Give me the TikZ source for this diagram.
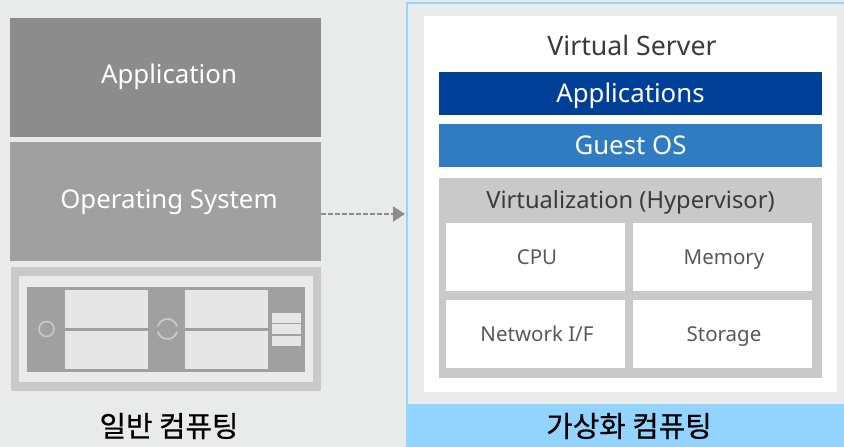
\documentclass[tikz,border=0pt]{standalone}
\usepackage{fontspec}
\setmainfont{Noto Sans}
\newfontfamily\krfont[FakeBold=0.6]{Noto Sans CJK KR}
\definecolor{pagebg}{HTML}{E9EBEA}
\definecolor{skyblue}{HTML}{93D4FF}
\definecolor{navyblue}{HTML}{004098}
\definecolor{midblue}{HTML}{2F7CC2}
\definecolor{lightgray}{HTML}{C8C9C8}
\definecolor{midgray}{HTML}{A0A0A0}
\definecolor{darkgray}{HTML}{8C8C8C}
\definecolor{slotgray}{HTML}{E6E6E6}
\definecolor{inktext}{HTML}{3E3A39}
\usetikzlibrary{arrows.meta}
\begin{document}
\begin{tikzpicture}
  [x=1pt,y=-1pt,every node/.style={inner sep=0,outer sep=0,shape=rectangle}]
  \tikzstyle{block} = [minimum width=#1,text=white,text height=19,text depth=6,font=\fontsize{25.8}{25}\selectfont]
  \tikzstyle{bar} = [block=383,minimum height=43,text height=23]
  \tikzstyle{cell} = [fill=white,minimum width=179,minimum height=68,text=inktext!85!white,text height=19,text depth=5,font=\fontsize{20.5}{20}\selectfont]
  \tikzstyle{slot} = [fill=slotgray,minimum width=83,minimum height=38]
  \tikzstyle{led} = [fill=slotgray,minimum width=29,minimum height=10]
  \tikzstyle{caption} = [text=black,font=\krfont\fontsize{28.8}{28}\selectfont]
  \useasboundingbox (0,0) rectangle (844,447);
  \fill[pagebg] (0,0) rectangle (844,447);
  % left stack
  \node[block=311,fill=darkgray,minimum height=119,text depth=8] (app) at (165.5,77.5) {\hspace{7pt}Application};
  \node[block=311,fill=midgray,minimum height=119] (os) at (165.5,201.5) {\hspace{7pt}Operating System};
  \node[fill=lightgray,minimum width=310,minimum height=124] (hw) at (166,329) {};
  \node[fill=pagebg,minimum width=294,minimum height=106] (hwin) at (166,329) {};
  \node[fill=midgray,minimum width=278,minimum height=85] (chassis) at (166,329.5) {};
  \foreach \name /\px /\py in {s1/106.5/309,s2/106.5/350,s3/226/309,s4/226/350}
    \node[slot] (\name) at (\px,\py) {};
  \foreach \name /\py in {l1/318,l2/329,l3/341}
    \node[led] (\name) at (286.5,\py) {};
  \node[circle,draw=lightgray,line width=1.6,minimum size=15] (dot) at (46.5,329) {};
  \draw[lightgray,line width=1.8] (167.5,329) ++(15:10) arc[start angle=15,end angle=165,radius=10];
  \draw[lightgray,line width=1.8] (167.5,329) ++(-15:10) arc[start angle=-15,end angle=-165,radius=10];
  \node[caption] (lefttitle) at (169,426) {일반 컴퓨팅};
  % right panel
  \node[draw=skyblue,line width=2.4,minimum width=440,minimum height=446] (panel) at (627,226) {};
  \fill[skyblue] (406,404) rectangle (844,447);
  \node[fill=white,minimum width=413,minimum height=376] (server) at (630.5,204) {};
  \node[text=inktext,text height=19,text depth=6,font=\fontsize{26.7}{25}\selectfont] (vs) at (632,48.5) {Virtual Server};
  \node[bar,fill=navyblue] (apps) at (630.5,93.5) {Applications};
  \node[bar,fill=midblue] (guest) at (630.5,145.5) {Guest OS};
  \node[fill=lightgray,minimum width=383,minimum height=200] (hyp) at (630.5,278) {};
  \node[text=inktext,text height=17,text depth=6,font=\fontsize{23.7}{23}\selectfont] (hyptitle) at (630.5,203) {Virtualization (Hypervisor)};
  \foreach \name /\px /\py /\txt in {cpu/535.5/257/CPU,mem/722.5/257/Memory,net/535.5/334/{Network I/F},sto/722.5/334/Storage}
    \node[cell] (\name) at (\px,\py) {\hspace{3pt}\txt};
  \node[caption] (righttitle) at (629,426) {가상화 컴퓨팅};
  % link
  \draw[darkgray,line width=1.8,dash pattern=on 5pt off 2pt,-{Triangle[length=12,width=15]}] ([yshift=-12.5pt]os.east) -- ([xshift=-2pt,yshift=-12.5pt]os.east -| panel.west);
\end{tikzpicture}
\end{document}
